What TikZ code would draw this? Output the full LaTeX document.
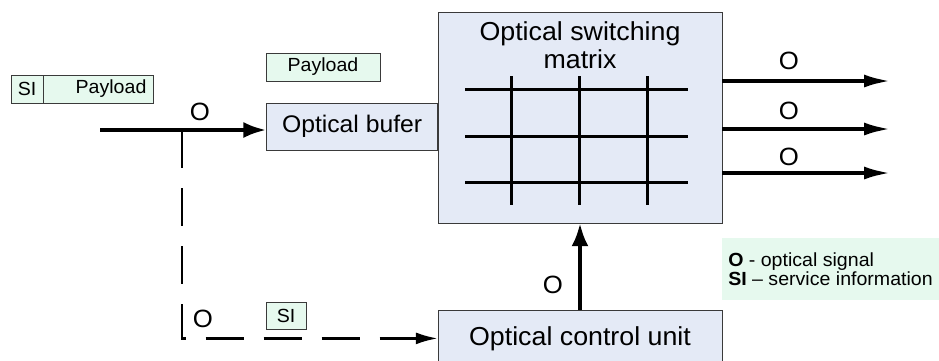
\documentclass[tikz,border=0pt]{standalone}
\usepackage{fontspec}
\setmainfont{Liberation Sans}[FakeStretch=1.03]
\usetikzlibrary{arrows.meta,positioning}
\definecolor{Edge}{HTML}{3A3A3A}
\definecolor{Pale}{HTML}{E4EAF6}
\definecolor{Mint}{HTML}{E6F9EE}

\begin{document}
\begin{tikzpicture}[x=1pt,y=-1pt,>=Latex,
box/.style={draw=Edge,fill=Pale,inner sep=0pt,font=\fontsize{24}{28}\selectfont},
tag/.style={draw=Edge,fill=Mint,inner sep=0pt,minimum height=28pt,font=\fontsize{19}{20}\selectfont},
lbl/.style={inner sep=0pt,font=\fontsize{25}{26}\selectfont},
arr/.style={->,line width=4pt,black},
dashline/.style={->,line width=2.5pt,dash pattern=on 38pt off 20pt},
wire/.style={line width=3pt}]
\useasboundingbox (0,0) rectangle (939,360);
\node[box,minimum width=284pt,minimum height=211pt] (mat) at (580,117.5) {};
\node[align=center,inner sep=0pt,font=\fontsize{26}{28}\selectfont] (title) at (580,45) {Optical switching\\matrix};
\node[box,minimum width=171pt,minimum height=47pt,left=0pt of mat,yshift=-9pt] (buf) {Optical bufer};
\node[box,minimum width=284pt,minimum height=56pt,below=87pt of mat,font=\fontsize{26}{28}\selectfont] (ctrl) {Optical control unit};
% switching grid
\foreach \y in {89,136,182}{\draw[wire] (465,\y) -- (688,\y);}
\foreach \x in {511,579,647}{\draw[wire] (\x,76) -- (\x,205);}
% packets
\node[tag,minimum width=32pt] (si) at (27,89) {SI};
\node[tag,right=0pt of si,inner xsep=7pt,text width=96pt,align=right] (pl) {Payload};
\node[tag,minimum width=114pt] (pl2) at (323,67) {Payload};
\node[tag,minimum width=40pt,minimum height=27pt] (si2) at (286,315.5) {SI};
% signals
\coordinate (in) at (100,130);
\coordinate (fork) at (182,130);
\draw[arr,-{Latex[length=23pt,width=16pt]}] (in) -- (in -| buf.west);
\draw[dashline,-{Latex[length=22pt,width=12pt]}] (fork) |- (ctrl.west);
\draw[arr,-{Latex[length=23pt,width=17pt]}] (ctrl.north) -- (mat.south);
\foreach \n/\y in {1/81,2/129,3/173}{
  \coordinate (out\n) at (891,\y);
  \draw[arr,-{Latex[length=27pt,width=13pt]}] (mat.east |- out\n) -- (out\n);}
\node[lbl] (oIn) at (200,112) {O};
\node[lbl] (oOut1) at (789,61) {O};
\node[lbl] (oOut2) at (789,111) {O};
\node[lbl] (oOut3) at (789,157) {O};
\node[lbl] (oUp) at (553,285) {O};
\node[lbl] (oDash) at (203,319) {O};
% legend
\node[fill=Mint,minimum width=217pt,minimum height=62pt,align=left,inner sep=0pt,font=\fontsize{19}{19}\selectfont] (key) at (830.5,269) {\textbf{O} - optical signal\\\textbf{SI} – service information};
\end{tikzpicture}
\end{document}
